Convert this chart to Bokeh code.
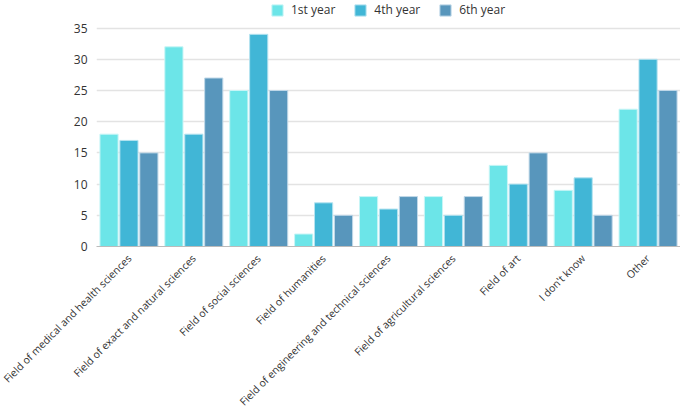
from bokeh.plotting import figure
from bokeh.models import FactorRange, Range1d, FixedTicker, ColumnDataSource, Legend, LegendItem
from bokeh.transform import dodge
from bokeh.embed import file_html
from bokeh.resources import INLINE
import math

categories = ["Field of medical and health sciences", "Field of exact and natural sciences",
              "Field of social sciences", "Field of humanities",
              "Field of engineering and technical sciences", "Field of agricultural sciences",
              "Field of art", "I don't know", "Other"]
year1 = [18, 32, 25, 2, 8, 8, 13, 9, 22]
year4 = [17, 18, 34, 7, 6, 5, 10, 11, 30]
year6 = [15, 27, 25, 5, 8, 8, 15, 5, 25]
series_names = ["1st year", "4th year", "6th year"]
y_ticks = [0, 5, 10, 15, 20, 25, 30, 35]

colors = ["#6ce5e8", "#41b6d6", "#5896bc"]
borders = ["#c8f5f6", "#b5e3f0", "#c0d8e8"]
fonts = "Open Sans"

src = ColumnDataSource(dict(cat=categories, y1=year1, y4=year4, y6=year6))

FH = 244
p = figure(frame_width=584, frame_height=FH, x_range=FactorRange(*categories), y_range=Range1d(0, 39.1),
           output_backend="svg", toolbar_location=None,
           min_border_left=96, min_border_right=0, min_border_top=2, min_border_bottom=0)
p.outline_line_color = None
p.background_fill_color = "white"

renderers = []
for key, off, col, bc in zip(["y1", "y4", "y6"], [-0.307, 0.0, 0.307], colors, borders):
    r = p.vbar(x=dodge("cat", off, range=p.x_range), top=key, width=0.28, source=src,
               fill_color=col, line_color=bc, line_width=1)
    renderers.append(r)

p.yaxis.ticker = FixedTicker(ticks=y_ticks)
p.yaxis.axis_line_color = None
p.yaxis.major_tick_line_color = None
p.yaxis.major_tick_out = 0
p.yaxis.major_tick_in = 0
p.yaxis.minor_tick_line_color = None
p.yaxis.major_label_text_font = fonts
p.yaxis.major_label_text_font_size = "12px"
p.yaxis.major_label_text_color = "#333333"
p.yaxis.major_label_standoff = 9

p.xaxis.axis_line_color = "#bbbbbb"
p.xaxis.major_tick_line_color = None
p.xaxis.major_tick_out = 0
p.xaxis.major_tick_in = 0
p.xaxis.minor_tick_line_color = None
p.xaxis.major_label_orientation = math.pi / 4
p.xaxis.major_label_text_font = fonts
p.xaxis.major_label_text_font_size = "10.5px"
p.xaxis.major_label_text_color = "#333333"
p.xaxis.major_label_standoff = 10

p.xgrid.grid_line_color = None
p.ygrid.grid_line_color = "#e3e3e3"
p.ygrid.grid_line_width = 1.5
p.ygrid.ticker = FixedTicker(ticks=y_ticks)

legend = Legend(items=[LegendItem(label=n, renderers=[r]) for n, r in zip(series_names, renderers)],
                orientation="horizontal", location=(174, FH - 16),
                glyph_width=14, glyph_height=14, label_standoff=7, spacing=18,
                padding=0, margin=0, border_line_color=None, background_fill_alpha=0,
                label_text_font=fonts, label_text_font_size="12px", label_text_color="#333333",
                label_height=14)
p.add_layout(legend, "center")

open("out.html", "w").write(file_html(p, INLINE))
